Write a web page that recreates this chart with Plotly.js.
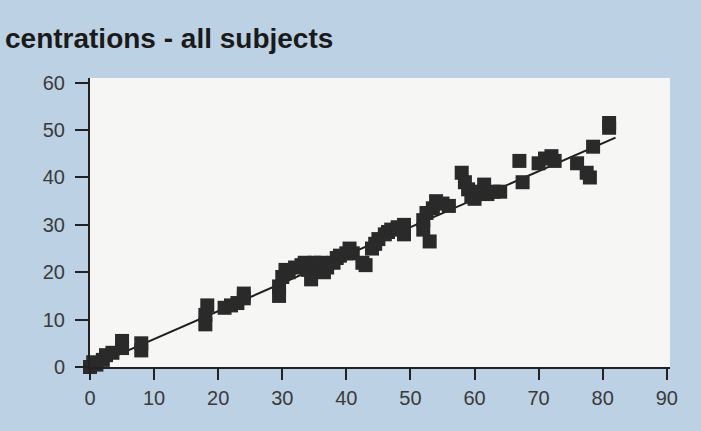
<!DOCTYPE html>
<html>
<head>
<meta charset="utf-8">
<script src="https://cdn.plot.ly/plotly-3.0.1.min.js"></script>
<style>html,body{margin:0;padding:0;background:#bcd1e3;}#chart{width:701px;height:431px;}</style>
</head>
<body>
<div id="chart"></div>
<script>
const titleText = "centrations - all subjects";
const xTicks = [0, 10, 20, 30, 40, 50, 60, 70, 80, 90];
const yTicks = [0, 10, 20, 30, 40, 50, 60];

const subjX = [0, 0, 0.5, 1, 2, 2.5, 3.5,
  5, 5, 8, 8,
  18, 18, 18.3, 21, 22, 23, 24, 24,
  29.5, 29.5, 30, 30.5, 31, 32, 33, 33.5, 34, 34.5, 35, 35.5, 36, 36.5, 37, 38, 38.5, 39, 40, 40.5, 41, 42.5, 43,
  44, 44.5, 45, 46, 46.5, 47, 48, 49, 49,
  52, 52, 52.5, 53, 53.5, 54, 55, 56,
  58, 58.5, 59, 59.5, 60, 61, 61.5, 62, 63, 64,
  67, 67.5, 70, 71, 72, 72.5,
  76, 77.5, 78, 78.5, 81, 81];
const subjY = [-1, 0, 1, 0.5, 1.5, 2.5, 3,
  4, 5.5, 3.5, 5,
  9, 11, 13, 12.5, 13, 13.5, 14.5, 15.5,
  15, 17, 19, 20.5, 20, 21, 21.5, 22, 20.5, 18.5, 22, 21, 22, 20, 21, 22, 23, 23.5, 24, 25, 24, 22, 21.5,
  25, 26, 27, 28, 28.5, 29, 29.5, 30, 28,
  29, 31, 32.5, 26.5, 33.5, 35, 34.5, 34,
  41, 39, 37.5, 36, 35.5, 37, 38.5, 36.5, 37, 37,
  43.5, 39, 43, 44, 44.5, 43.5,
  43, 41, 40, 46.5, 51.5, 50.5];
const fitX = [0, 82];
const fitY = [0, 48.4];

const traces = [
  {x: fitX, y: fitY, mode: 'lines', type: 'scatter', line: {color: '#1e1e1e', width: 2}, hoverinfo: 'skip', cliponaxis: false},
  {x: subjX, y: subjY, mode: 'markers', type: 'scatter',
   marker: {symbol: 'square', size: 14, color: '#2a2a2a', line: {width: 0}}, cliponaxis: false}
];

const tickFont = {family: 'Liberation Sans, Arial, sans-serif', size: 20, color: '#3a3a3a'};
const layout = {
  width: 701, height: 431,
  paper_bgcolor: '#bcd1e3', plot_bgcolor: '#f6f6f4',
  showlegend: false,
  margin: {l: 90, r: 31, t: 78, b: 64},
  xaxis: {range: [0, 90.5], tickvals: xTicks, ticktext: xTicks.map(String), ticks: 'outside', ticklen: 11, tickwidth: 2, tickcolor: '#222',
    showline: true, linecolor: '#222', linewidth: 2, showgrid: false, zeroline: false, tickfont: tickFont, ticklabelstandoff: 1},
  yaxis: {range: [0, 61], tickvals: yTicks, ticktext: yTicks.map(String), ticks: 'outside', ticklen: 13, tickwidth: 2, tickcolor: '#222',
    showline: true, linecolor: '#222', linewidth: 2, showgrid: false, zeroline: false, tickfont: tickFont, ticklabelstandoff: 6},
  annotations: [{text: titleText, xref: 'paper', yref: 'paper', x: -90/580, y: 1 + 39/289, xanchor: 'left', yanchor: 'middle',
    xshift: 3, showarrow: false, font: {family: 'Liberation Sans, Arial, sans-serif', size: 28, color: '#1a1a1a', weight: 'bold'}}]
};
Plotly.newPlot('chart', traces, layout, {staticPlot: true});
</script>
</body>
</html>
